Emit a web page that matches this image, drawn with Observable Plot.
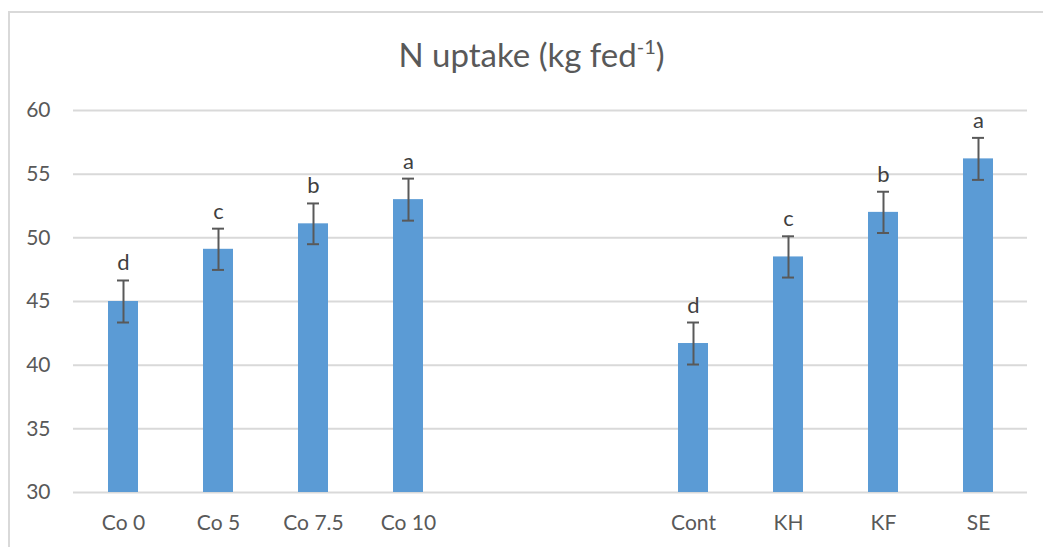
<!DOCTYPE html>
<html>
<head>
<meta charset="utf-8">
<script src="https://cdn.jsdelivr.net/npm/d3@7"></script>
<script src="https://cdn.jsdelivr.net/npm/@observablehq/plot@0.6"></script>
<style>
  html, body { margin: 0; padding: 0; background: #fff; overflow: hidden; }
  #wrap { position: relative; width: 1043px; height: 547px; overflow: hidden; font-family: Lato, "Open Sans", sans-serif; }
  #frame { position: absolute; left: 8px; top: 11px; width: 1100px; height: 600px; border: 2px solid #d9d9d9; box-sizing: border-box; }
  #titlebox { position: relative; height: 90px; }
  #title { position: absolute; left: 0; width: 1063px; top: 38px; text-align: center; font-size: 33px; line-height: 33px; color: #595959; white-space: nowrap; }
  #title sup { font-size: 20px; vertical-align: 0; position: relative; top: -13px; line-height: 0; }
  #chart { position: relative; }
</style>
</head>
<body>
<div id="wrap">
  <div id="frame"></div>
  <div id="titlebox"><div id="title">N uptake (kg fed<sup>-1</sup>)</div></div>
  <div id="chart"></div>
</div>
<script>
// Treatment categories (two groups separated by two empty slots)
const categories = ["Co 0", "Co 5", "Co 7.5", "Co 10", "Cont", "KH", "KF", "SE"];
const xDomain = ["Co 0", "Co 5", "Co 7.5", "Co 10", " ", "  ", "Cont", "KH", "KF", "SE"];
// N uptake means
const values = [45.0, 49.1, 51.1, 53.0, 41.7, 48.5, 52.0, 56.2];
// error (± half-range)
const errors = [1.65, 1.62, 1.6, 1.65, 1.65, 1.62, 1.62, 1.65];
// significance letters
const letters = ["d", "c", "b", "a", "d", "c", "b", "a"];
// y tick values
const yTicks = [30, 35, 40, 45, 50, 55, 60];

const data = categories.map((c, i) => ({
  cat: c, value: values[i], err: errors[i], letter: letters[i]
}));

const textColor = "#595959";

const chart = Plot.plot({
  width: 1043,
  height: 457,
  marginTop: 20,
  marginBottom: 55,
  marginLeft: 73,
  marginRight: 16,
  style: { fontFamily: "Lato, 'Open Sans', sans-serif", fontSize: "21px", color: textColor, background: "transparent", overflow: "visible" },
  x: { domain: xDomain, paddingInner: 0.685, paddingOuter: 0.3425, align: 0.5, label: null, tickSize: 0, tickPadding: 23, tickFormat: d => d.trim() },
  y: { domain: [30, 60], ticks: yTicks, label: null, tickSize: 0, tickPadding: 23, grid: false },
  marks: [
    Plot.gridY(yTicks, { stroke: "#d9d9d9", strokeOpacity: 1, strokeWidth: 2 }),
    Plot.barY(data, { x: "cat", y1: 30, y2: "value", fill: "#5B9BD5" }),
    Plot.ruleX(data, { x: "cat", y1: d => d.value - d.err, y2: d => d.value + d.err, stroke: "#595959", strokeWidth: 2 }),
    Plot.tickY(data, { x: "cat", y: d => d.value + d.err, stroke: "#595959", strokeWidth: 2, insetLeft: 9, insetRight: 9 }),
    Plot.tickY(data, { x: "cat", y: d => d.value - d.err, stroke: "#595959", strokeWidth: 2, insetLeft: 9, insetRight: 9 }),
    Plot.text(data, { x: "cat", y: d => d.value + d.err, text: "letter", lineAnchor: "bottom", dy: -10, fill: "#404040", fontSize: 22 })
  ]
});
document.getElementById("chart").appendChild(chart);
</script>
</body>
</html>
